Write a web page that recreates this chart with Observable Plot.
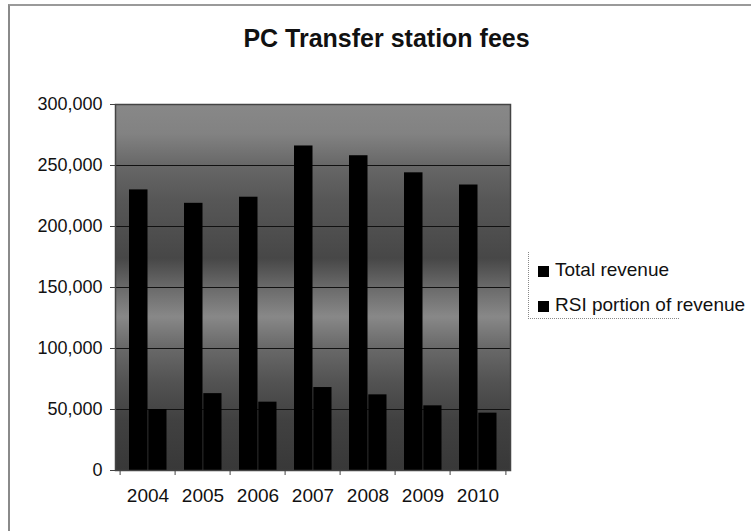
<!DOCTYPE html>
<html>
<head>
<meta charset="utf-8">
<script src="https://cdn.jsdelivr.net/npm/d3@7"></script>
<script src="https://cdn.jsdelivr.net/npm/@observablehq/plot@0.6"></script>
<style>
  body { margin: 0; background: #fff; }
  #wrap { position: relative; width: 751px; height: 531px; overflow: hidden;
          font-family: "Liberation Sans", Arial, sans-serif; color: #111; background: #fff; }
  #outer { position: absolute; left: 8px; top: 4px; width: 760px; height: 540px;
           border-left: 2px solid #8a8a8a; border-top: 2px solid #9a9a9a; }
  #chart { position: absolute; left: 0; top: 0; }
  #title { position: absolute; left: 0; width: 773px; top: 26px; line-height: 25px;
           text-align: center; font-weight: bold; font-size: 25px; white-space: nowrap; }
  #legend { position: absolute; left: 528px; top: 252px; width: 150px; height: 66px;
            border-left: 1px dotted #888; border-bottom: 1px dotted #888; }
  .item { position: absolute; left: 0; height: 20px; line-height: 20px; white-space: nowrap; font-size: 19px; }
  .sw { position: absolute; left: 9px; width: 11px; height: 11px; }
  .lab { position: absolute; left: 26px; top: 0; }
</style>
</head>
<body>
<div id="wrap">
  <div id="outer"></div>
  <div id="chart"></div>
  <div id="title"></div>
  <div id="legend"></div>
</div>
<script>
const chartTitle = "PC Transfer station fees";
const years = ["2004", "2005", "2006", "2007", "2008", "2009", "2010"];
const totalRevenue = [230000, 219000, 224000, 266000, 258000, 244000, 234000];
const rsiRevenue = [50000, 63000, 56000, 68000, 62000, 53000, 47000];
const seriesNames = ["Total revenue", "RSI portion of revenue"];
const seriesColors = ["#000000", "#000000"];
const yTicks = [0, 50000, 100000, 150000, 200000, 250000, 300000];

const rows = years.map((year, i) => ({year, total: totalRevenue[i], rsi: rsiRevenue[i]}));

const W = 751, H = 531, mL = 115, mR = 241, mT = 104, mB = 61;
const padOuter = 0.04;
const step = (W - mL - mR) / (years.length + 2 * padOuter);

const chart = Plot.plot({
  width: W, height: H,
  marginLeft: mL, marginRight: mR, marginTop: mT, marginBottom: mB,
  style: {fontFamily: "'Liberation Sans', Arial, sans-serif", fontSize: "18px", color: "#111",
          background: "transparent", overflow: "visible"},
  x: {type: "band", domain: years, paddingInner: 0, paddingOuter: padOuter},
  y: {domain: [0, 300000]},
  marks: [
    Plot.frame({fill: "url(#plotbg)", stroke: null}),
    Plot.gridY(yTicks.filter(t => t > 0 && t < 300000), {stroke: "#111", strokeOpacity: 1, strokeWidth: 1}),
    Plot.barY(rows, {x: "year", y: "total", fill: seriesColors[0], insetLeft: 9, insetRight: 27.5}),
    Plot.barY(rows, {x: "year", y: "rsi", fill: seriesColors[1], insetLeft: 28.3, insetRight: 8.5}),
    Plot.frame({stroke: "#444", strokeWidth: 1.5}),
    Plot.axisY({ticks: yTicks, tickFormat: d3.format(","), tickSize: 5, tickPadding: 8, fontSize: 18, label: null, stroke: "#444"}),
    Plot.axisX({tickSize: 0, tickPadding: 18, fontSize: 19, label: null}),
    Plot.axisX({tickSize: 5, tickFormat: () => "", dx: -step / 2, label: null, stroke: "#444"}),
    Plot.axisX({ticks: [years[years.length - 1]], tickSize: 5, tickFormat: () => "", dx: step / 2, label: null, stroke: "#444"})
  ]
});

// background gradient for the plot area
const svg = d3.select(chart);
const grad = svg.insert("defs", ":first-child").append("linearGradient")
  .attr("id", "plotbg").attr("x1", 0).attr("y1", 0).attr("x2", 0).attr("y2", 1);
[[0, "#888888"], [0.08, "#828282"], [0.17, "#666666"], [0.26, "#575757"], [0.42, "#474747"],
 [0.5, "#6a6a6a"], [0.58, "#888888"], [0.66, "#6a6a6a"], [0.76, "#525252"], [0.86, "#414141"], [1, "#383838"]]
  .forEach(([o, c]) => grad.append("stop").attr("offset", o).attr("stop-color", c));

document.getElementById("chart").appendChild(chart);
document.getElementById("title").textContent = chartTitle;

const legend = d3.select("#legend");
const rowTops = [8, 43];
seriesNames.forEach((name, i) => {
  const it = legend.append("div").attr("class", "item").style("top", rowTops[i] + "px");
  it.append("div").attr("class", "sw").style("top", "6px").style("background", seriesColors[i]);
  it.append("div").attr("class", "lab").text(name);
});
</script>
</body>
</html>
